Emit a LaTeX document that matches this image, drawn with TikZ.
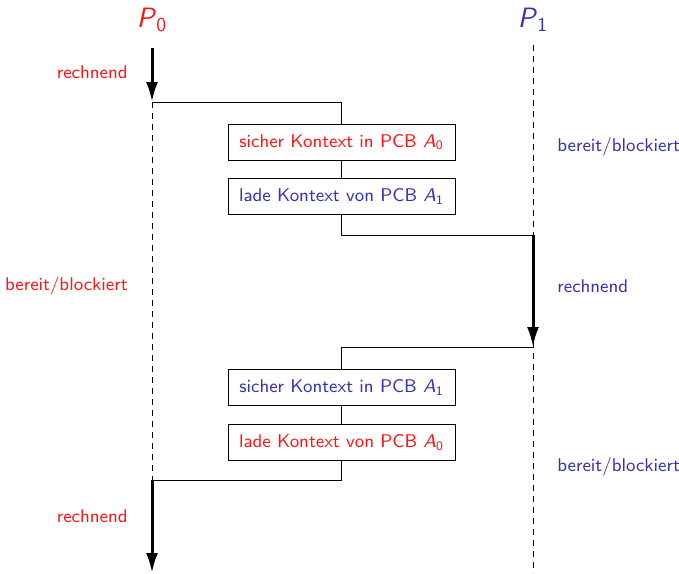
\documentclass[tikz,border=0pt]{standalone}
\usetikzlibrary{arrows.meta}
\definecolor{pzero}{RGB}{255,20,20}
\definecolor{pone}{RGB}{51,51,179}
\newcommand{\idx}[2]{\textit{#1}\textsubscript{#2}}
\tikzset{
  lbl/.style={font=\sffamily\fontsize{9.2}{11}\selectfont, inner sep=0pt},
  title/.style={font=\sffamily\fontsize{14}{17}\selectfont, inner sep=0pt},
  ctxbox/.style={draw, line width=0.5pt, minimum width=113.5pt, minimum height=18pt,
    inner sep=0pt, font=\sffamily\fontsize{9.2}{11}\selectfont},
  thin/.style={line width=0.5pt},
  timeline/.style={line width=0.5pt, dash pattern=on 3pt off 2.5pt},
  run/.style={line width=1.5pt, -{Latex[length=10pt,width=6pt]}},
}
\begin{document}
\begin{tikzpicture}[x=0.5pt, y=-0.5pt]
\useasboundingbox (0,0) rectangle (679,573);

% process titles
\node[title, text=pzero] (p0) at (152,20) {\idx{P}{0}};
\node[title, text=pone]  (p1) at (533,20) {\idx{P}{1}};

% timeline anchors
\coordinate (a0) at (152,48);
\coordinate (a1) at (152,102);
\coordinate (a2) at (152,480);
\coordinate (a3) at (152,573);
\coordinate (c0) at (533,45);
\coordinate (c1) at (533,235);
\coordinate (c2) at (533,347);
\coordinate (c3) at (533,573);

% context switch boxes
\node[ctxbox, text=pzero] (b1) at (341.5,142) {sicher Kontext in PCB \idx{A}{0}};
\node[ctxbox, text=pone]  (b2) at (341.5,196.5) {lade Kontext von PCB \idx{A}{1}};
\node[ctxbox, text=pone]  (b3) at (341.5,387.5) {sicher Kontext in PCB \idx{A}{1}};
\node[ctxbox, text=pzero] (b4) at (341.5,442.5) {lade Kontext von PCB \idx{A}{0}};

% waiting phases
\draw[timeline] (a1) -- (a2);
\draw[timeline] (c0) -- (c3);

% running phases
\draw[run] (a0) -- (a1);
\draw[run] (c1) -- (c2);
\draw[run] (a2) -- (a3);

% switch paths
\draw[thin] (a1) -| (b1.north);
\draw[thin] (b1) -- (b2);
\draw[thin] (b2.south) |- (c1);
\draw[thin] (c2) -| (b3.north);
\draw[thin] (b3) -- (b4);
\draw[thin] (b4.south) |- (a2);

% state labels
\node[lbl, text=pzero, anchor=east] (l1) at (128,72) {rechnend};
\node[lbl, text=pzero, anchor=east] (l2) at (128,286) {bereit/blockiert};
\node[lbl, text=pzero, anchor=east] (l3) at (128,516) {rechnend};
\node[lbl, text=pone, anchor=west] (r1) at (557,147) {bereit/blockiert};
\node[lbl, text=pone, anchor=west] (r2) at (557,286) {rechnend};
\node[lbl, text=pone, anchor=west] (r3) at (557,467) {bereit/blockiert};
\end{tikzpicture}
\end{document}
